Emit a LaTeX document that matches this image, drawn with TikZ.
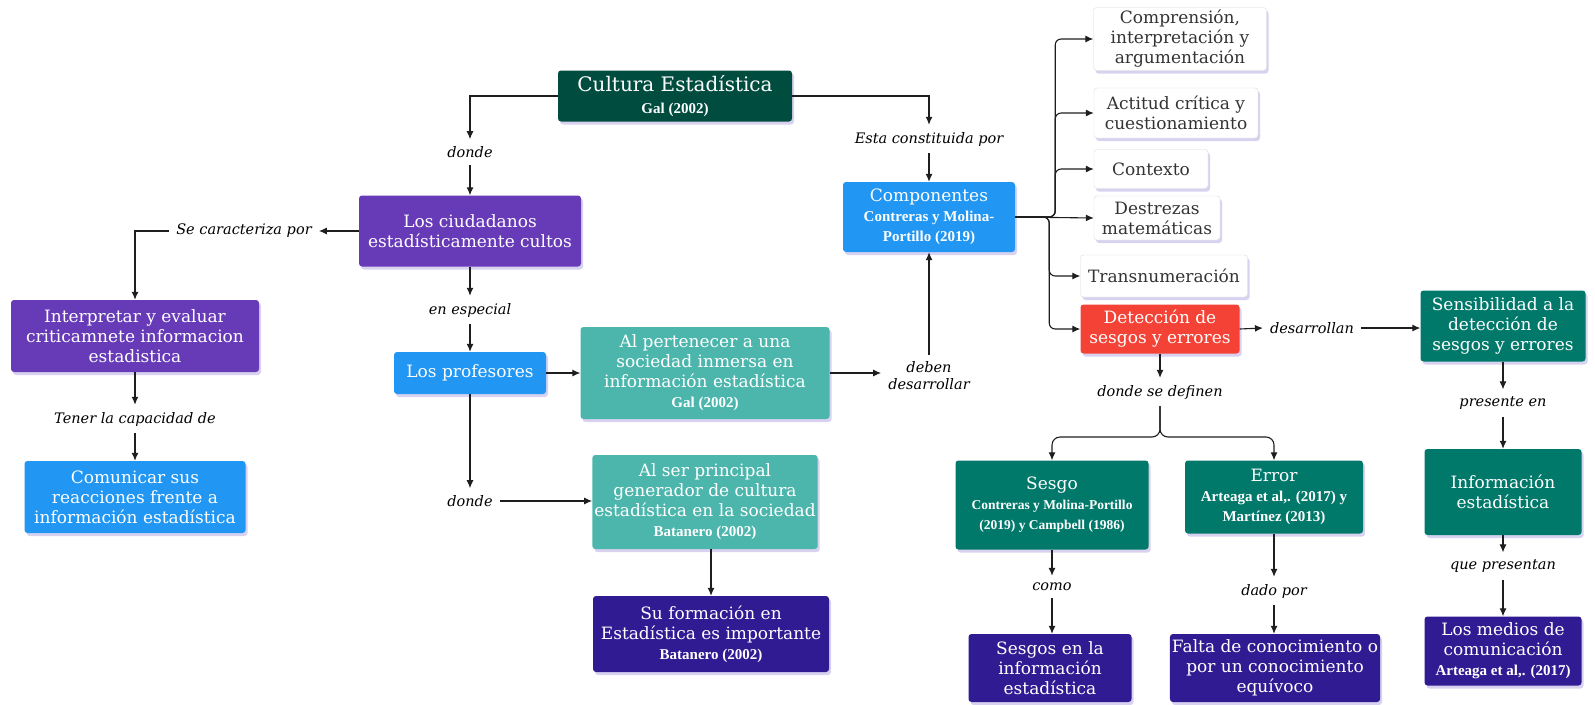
\documentclass[tikz,border=0pt]{standalone}
\usepackage{fontspec}
\setmainfont{DejaVu Serif}
\newfontfamily\citafont{Liberation Serif}
\usepackage{tikz}
\usetikzlibrary{arrows.meta,shapes,positioning,shadows}
\usepackage{xcolor}
\definecolor{cmdarkgreen}{RGB}{0,77,64}
\definecolor{cmgreen}{RGB}{0,121,107}
\definecolor{cmteal}{RGB}{77,182,172}
\definecolor{cmpurple}{RGB}{103,58,183}
\definecolor{cmblue}{RGB}{33,150,243}
\definecolor{cmindigo}{RGB}{49,27,146}
\definecolor{cmred}{RGB}{244,67,54}
\definecolor{cmline}{RGB}{30,30,30}
\definecolor{cmshadow}{RGB}{190,180,230}
\tikzstyle{arrow} = [line width=1.1pt,-{Latex[length=8pt,width=7pt]},color=cmline]
\tikzstyle{box} = [rectangle,rounded corners=3pt,align=center,text=white,inner sep=2pt,
  font=\fontsize{17}{20}\selectfont,
  drop shadow={shadow xshift=2pt,shadow yshift=-3pt,fill=cmshadow,opacity=.6}]
\tikzstyle{whitebox} = [box,fill=white,draw=black!15,text=black!80]
\tikzstyle{nexo} = [align=center,inner sep=7pt,font=\fontsize{14.5}{17}\selectfont\itshape]
\newcommand{\cita}[1]{{\citafont\bfseries\fontsize{15}{17}\selectfont #1}}
\newcommand{\citapeq}[1]{{\citafont\bfseries\fontsize{13.5}{16}\selectfont #1}}

\begin{document}
\begin{tikzpicture}[x=1pt,y=-1pt]
\useasboundingbox (0,0) rectangle (1595,704);

% Main concept
\node[box,fill=cmdarkgreen,minimum width=234pt,minimum height=51pt,font=\fontsize{20}{22}\selectfont] (cultura) at (675,96) {Cultura Estadística\\\cita{Gal (2002)}};

% Left branch
\node[nexo] (donde1) at (470,152) {donde};
\node[box,fill=cmpurple,minimum width=222pt,minimum height=71pt] (ciudadanos) at (470,231) {Los ciudadanos\\estadísticamente cultos};
\node[nexo] (caracteriza) at (244,231) {Se caracteriza por};
\node[box,fill=cmpurple,minimum width=248pt,minimum height=72pt] (interpretar) at (135,336) {Interpretar y evaluar\\criticamnete informacion\\estadistica};
\node[nexo] (tener) at (135,419) {Tener la capacidad de};
\node[box,fill=cmblue,minimum width=221pt,minimum height=72pt] (comunicar) at (135,497) {Comunicar sus\\reacciones frente a\\información estadística};
\node[nexo] (especial) at (470,310) {en especial};
\node[box,fill=cmblue,minimum width=152pt,minimum height=42pt] (profesores) at (470,373) {Los profesores};
\node[box,fill=cmteal,minimum width=249pt,minimum height=92pt] (pertenecer) at (705,373) {Al pertenecer a una\\sociedad inmersa en\\información estadística\\\cita{Gal (2002)}};
\node[nexo] (donde2) at (470,501) {donde};
\node[box,fill=cmteal,minimum width=224pt,minimum height=94pt] (alser) at (705,502) {Al ser principal\\generador de cultura\\estadística en la sociedad\\\cita{Batanero (2002)}};
\node[box,fill=cmindigo,minimum width=236pt,minimum height=76pt] (formacion) at (711,634) {Su formación en\\Estadística es importante\\\cita{Batanero (2002)}};
\node[nexo] (deben) at (929,376) {deben\\desarrollar};

% Right branch
\node[nexo] (constituida) at (929,139) {Esta constituida por};
\node[box,fill=cmblue,minimum width=172pt,minimum height=70pt] (componentes) at (929,217) {Componentes\\\cita{Contreras y Molina-}\\\cita{Portillo (2019)}};
\node[whitebox,minimum width=173pt,minimum height=63pt] (comprension) at (1180,39) {Comprensión,\\interpretación y\\argumentación};
\node[whitebox,minimum width=164pt,minimum height=50pt] (actitud) at (1176,113) {Actitud crítica y\\cuestionamiento};
\node[whitebox,minimum width=114pt,minimum height=39pt] (contexto) at (1151,169) {Contexto};
\node[whitebox,minimum width=126pt,minimum height=44pt] (destrezas) at (1157,218) {Destrezas\\matemáticas};
\node[whitebox,minimum width=167pt,minimum height=42pt] (transnum) at (1164,276) {Transnumeración};
\node[box,fill=cmred,minimum width=159pt,minimum height=49pt] (deteccion) at (1160,329) {Detección de\\sesgos y errores};
\node[nexo] (desarrollan) at (1312,328) {desarrollan};
\node[box,fill=cmgreen,minimum width=165pt,minimum height=71pt] (sensibilidad) at (1503,326) {Sensibilidad a la\\detección de\\sesgos y errores};
\node[nexo] (presente) at (1503,403) {presente en};
\node[box,fill=cmgreen,minimum width=157pt,minimum height=86pt] (infoest) at (1503,492) {Información\\estadística};
\node[nexo] (quepresentan) at (1503,566) {que presentan};
\node[box,fill=cmindigo,minimum width=157pt,minimum height=69pt] (medios) at (1503,651) {Los medios de\\comunicación\\\cita{Arteaga et al,. (2017)}};
\node[nexo] (definen) at (1160,392) {donde se definen};
\node[box,fill=cmgreen,minimum width=193pt,minimum height=89pt] (sesgo) at (1052,505) {Sesgo\\\citapeq{Contreras y Molina-Portillo}\\\citapeq{(2019) y Campbell (1986)}};
\node[box,fill=cmgreen,minimum width=178pt,minimum height=73pt] (error) at (1274,497) {Error\\\cita{Arteaga et al,. (2017) y}\\\cita{Martínez (2013)}};
\node[nexo] (como) at (1052,587) {como};
\node[nexo] (dadopor) at (1274,591) {dado por};
\node[box,fill=cmindigo,minimum width=163pt,minimum height=68pt] (sesgosinfo) at (1050,668) {Sesgos en la\\información\\estadística};
\node[box,fill=cmindigo,minimum width=209pt,minimum height=68pt] (falta) at (1275,668) {Falta de conocimiento o\\por un conocimiento\\equívoco};

% Connections
\draw[arrow] (cultura.west) -| (donde1.north);
\draw[arrow] (donde1) -- (ciudadanos);
\draw[arrow] (cultura.east) -| (constituida.north);
\draw[arrow] (constituida) -- (componentes);
\draw[arrow] (ciudadanos.west) -- (caracteriza.east);
\draw[arrow] (caracteriza.west) -| (interpretar.north);
\draw[arrow] (interpretar) -- (tener);
\draw[arrow] (tener) -- (comunicar);
\draw[arrow] (ciudadanos) -- (especial);
\draw[arrow] (especial) -- (profesores);
\draw[arrow] (profesores.east) -- (profesores.east -| pertenecer.west);
\draw[arrow] (pertenecer.east) -- (pertenecer.east -| deben.west);
\draw[arrow] (deben) -- (componentes);
\draw[arrow] (profesores) -- (donde2);
\draw[arrow] (donde2.east) -- (donde2.east -| alser.west);
\draw[arrow] (formacion.north |- alser.south) -- (formacion.north);

% Components
\foreach \comp in {comprension,actitud,contexto}
  \draw[arrow,rounded corners=6pt] (componentes.east) -- ++(40,0) |- (\comp.west);
\draw[arrow] (componentes.east) -- (destrezas.west);
\foreach \comp in {transnum,deteccion}
  \draw[arrow,rounded corners=6pt] (componentes.east) -- ++(34,0) |- (\comp.west);

\draw[arrow] (deteccion.east) -- (desarrollan.west);
\draw[arrow] (desarrollan.east) -- (desarrollan.east -| sensibilidad.west);
\draw[arrow] (sensibilidad) -- (presente);
\draw[arrow] (presente) -- (infoest);
\draw[arrow] (infoest) -- (quepresentan);
\draw[arrow] (quepresentan) -- (medios);
\draw[arrow] (deteccion) -- (definen);

% Split into sesgo and error
\coordinate (split) at (1160,437);
\draw[arrow,rounded corners=8pt] (definen.south) -- (split) -| (sesgo.north);
\draw[arrow,rounded corners=8pt] (definen.south) -- (split) -| (error.north);
\draw[arrow] (sesgo) -- (como);
\draw[arrow] (como) -- (como |- sesgosinfo.north);
\draw[arrow] (error) -- (dadopor);
\draw[arrow] (dadopor) -- (dadopor |- falta.north);
\end{tikzpicture}
\end{document}
